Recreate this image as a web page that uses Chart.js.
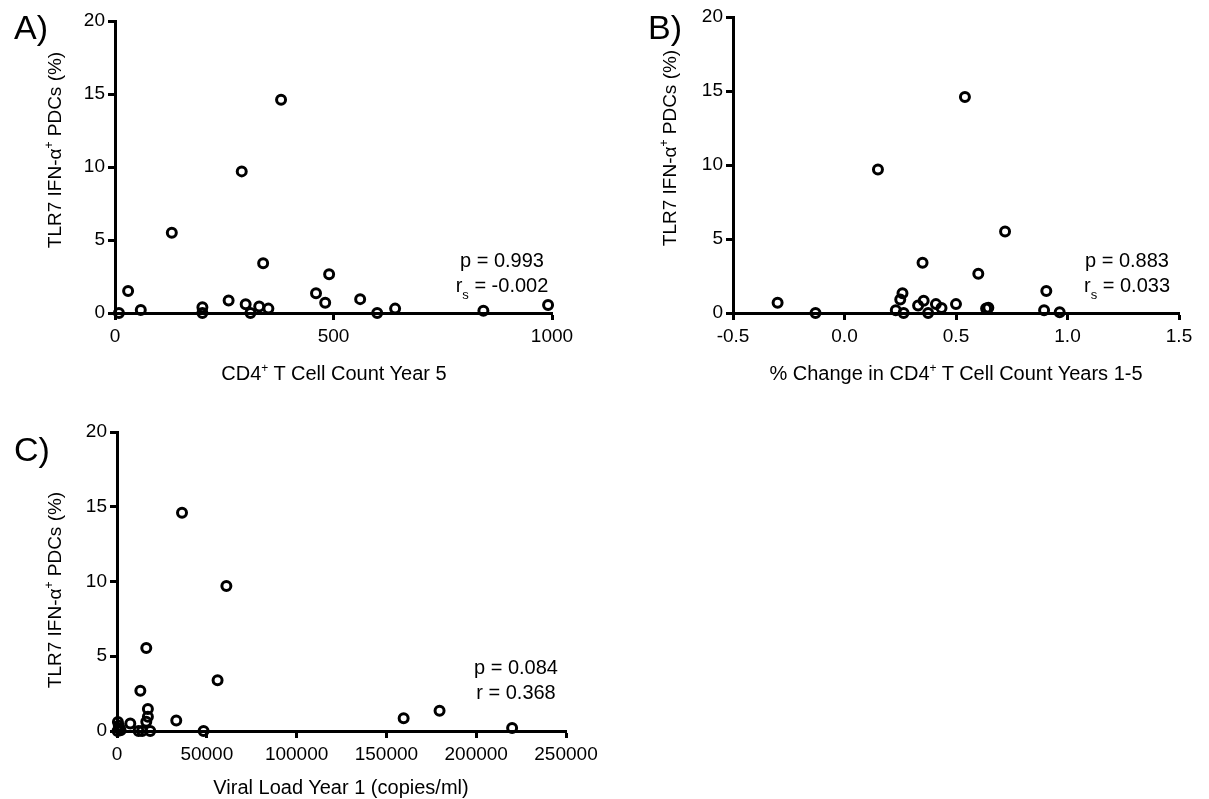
<!DOCTYPE html>
<html>
<head>
<meta charset="utf-8">
<title>TLR7 IFN-a PDCs scatter</title>
<script src="https://cdn.jsdelivr.net/npm/chart.js@4.4.1/dist/chart.umd.min.js"></script>
<style>
  body { margin: 0; background: #fff; }
  #wrap { position: relative; width: 1209px; height: 799px; overflow: hidden; font-family: "Liberation Sans", Arial, sans-serif; color: #000; }
  canvas { position: absolute; }
  .txt { position: absolute; white-space: nowrap; transform: translate(-50%, -50%); line-height: 1.15; }
  .ytitle { transform: translate(-50%, -50%) rotate(-90deg); font-size: 19px; }
  .xtitle { font-size: 20px; }
  .stat { font-size: 20px; }
  .letter { font-size: 34px; }
  sup { font-size: 12px; vertical-align: 8px; line-height: 0; }
  sub { font-size: 13px; vertical-align: -7px; line-height: 0; }
</style>
</head>
<body>
<div id="wrap">
  <canvas id="chartA" width="600" height="370" style="left:0;top:0"></canvas>
  <canvas id="chartB" width="609" height="370" style="left:600px;top:0"></canvas>
  <canvas id="chartC" width="620" height="419" style="left:0;top:380px"></canvas>

  <div class="txt letter" style="left:31px;top:28px">A)</div>
  <div class="txt letter" style="left:665px;top:28px">B)</div>
  <div class="txt letter" style="left:32px;top:450px">C)</div>

  <div class="txt ytitle" style="left:55px;top:150px">TLR7 IFN-α<sup>+</sup> PDCs (%)</div>
  <div class="txt ytitle" style="left:670px;top:148px">TLR7 IFN-α<sup>+</sup> PDCs (%)</div>
  <div class="txt ytitle" style="left:55px;top:590px">TLR7 IFN-α<sup>+</sup> PDCs (%)</div>

  <div class="txt xtitle" style="left:334px;top:373px">CD4<sup>+</sup> T Cell Count Year 5</div>
  <div class="txt xtitle" style="left:956px;top:373px">% Change in CD4<sup>+</sup> T Cell Count Years 1-5</div>
  <div class="txt xtitle" style="left:341px;top:787px">Viral Load Year 1 (copies/ml)</div>

  <div class="txt stat" style="left:502px;top:260px">p = 0.993</div>
  <div class="txt stat" style="left:502px;top:285px">r<sub>s</sub> = -0.002</div>
  <div class="txt stat" style="left:1127px;top:260px">p = 0.883</div>
  <div class="txt stat" style="left:1127px;top:285px">r<sub>s</sub> = 0.033</div>
  <div class="txt stat" style="left:516px;top:667px">p = 0.084</div>
  <div class="txt stat" style="left:516px;top:692px">r = 0.368</div>
</div>

<script>
// values
var yTicks = [0, 5, 10, 15, 20];

// A) CD4+ count year 5
var aTicks = [0, 500, 1000];
var aX = [9, 30, 59, 130, 200, 200, 260, 290, 299, 310, 330, 339, 351, 380, 460, 481, 490, 561, 600, 641, 843, 991];
var aY = [0, 1.5, 0.2, 5.5, 0.4, 0, 0.85, 9.7, 0.6, 0, 0.45, 3.4, 0.3, 14.6, 1.35, 0.7, 2.65, 0.95, 0, 0.3, 0.15, 0.55];

// B) % change in CD4+ count years 1-5
var bTicks = [-0.5, 0.0, 0.5, 1.0, 1.5];
var bX = [-0.3, -0.13, 0.15, 0.23, 0.25, 0.26, 0.265, 0.33, 0.35, 0.355, 0.375, 0.41, 0.435, 0.5, 0.54, 0.6, 0.635, 0.645, 0.72, 0.895, 0.905, 0.965];
var bY = [0.7, 0, 9.7, 0.18, 0.92, 1.33, 0, 0.5, 3.4, 0.83, 0, 0.6, 0.33, 0.6, 14.6, 2.65, 0.3, 0.35, 5.5, 0.18, 1.48, 0.05];

// C) viral load year 1
var cTicks = [0, 50000, 100000, 150000, 200000, 250000];
var cX = [300, 500, 1000, 1500, 2000, 7400, 12000, 13000, 14000, 16300, 16300, 17200, 17200, 18500, 33000, 36200, 48200, 56000, 60900, 159600, 179600, 220000];
var cY = [0, 0.6, 0.35, 0.15, 0.05, 0.5, 0, 2.7, 0, 5.55, 0.62, 1.47, 0.96, 0, 0.7, 14.6, 0, 3.4, 9.7, 0.85, 1.35, 0.2];

var FONT = { family: "'Liberation Sans', Arial, sans-serif", size: 19 };

function toPoints(xs, ys) {
  var pts = [];
  for (var i = 0; i < xs.length; i++) pts.push({ x: xs[i], y: ys[i] });
  return pts;
}

function axis(min, max, tickList, fmt, pad, fit) {
  return {
    type: 'linear',
    min: min,
    max: max,
    border: { color: '#000', width: 3 },
    grid: { drawOnChartArea: false, drawTicks: true, tickLength: 7, tickColor: '#000', tickWidth: 3 },
    ticks: { color: '#000', font: FONT, padding: pad, maxRotation: 0, autoSkip: false, callback: fmt },
    afterBuildTicks: function (s) { s.ticks = tickList.map(function (v) { return { value: v }; }); },
    afterFit: fit
  };
}

function makeChart(id, xs, ys, xMin, xMax, xTicks, xFmt, pad) {
  new Chart(document.getElementById(id), {
    type: 'scatter',
    data: {
      datasets: [{
        data: toPoints(xs, ys),
        pointStyle: 'circle',
        pointRadius: 4.5,
        pointBorderWidth: 3,
        borderColor: '#000',
        backgroundColor: 'rgba(0,0,0,0)',
        clip: false
      }]
    },
    options: {
      responsive: false,
      animation: false,
      events: [],
      layout: { padding: pad },
      plugins: { legend: { display: false }, tooltip: { enabled: false } },
      scales: {
        x: axis(xMin, xMax, xTicks, xFmt, 5, function (s) { s.height = 40; }),
        y: axis(0, 20, yTicks, function (v) { return String(v); }, 3, function (s) { s.width = 50; })
      }
    }
  });
}

makeChart('chartA', aX, aY, 0, 1000, aTicks, function (v) { return String(v); },
  { left: 65, right: 48, top: 21, bottom: 17 });
makeChart('chartB', bX, bY, -0.5, 1.5, bTicks, function (v) { return v.toFixed(1); },
  { left: 83, right: 30, top: 17, bottom: 17 });
makeChart('chartC', cX, cY, 0, 250000, cTicks, function (v) { return String(v); },
  { left: 67, right: 54, top: 52, bottom: 28 });
</script>
</body>
</html>
